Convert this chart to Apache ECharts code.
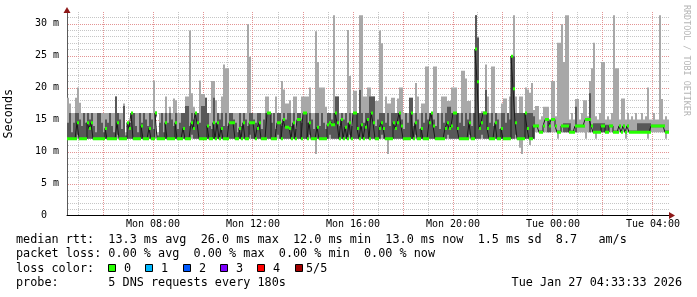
<!DOCTYPE html>
<html><head><meta charset="utf-8">
<script src="https://cdn.jsdelivr.net/npm/echarts@6/dist/echarts.min.js"></script>
<style>html,body{margin:0;padding:0;background:#fff}#c{width:697px;height:297px}</style>
</head><body><div id="c"></div>
<script>
// time axis in hours since Mon 00:00; one column = 4.8 minutes
const startHour = 4.56;
const stepHours = 0.08;

// per-column ping distribution (ms): min, 2nd, median, 4th, max
const lo = [
 12,12,12,12,12,12,12,12,12,12,
 12,12,12,12,12,12,12,12,12,12,
 12,12,12,12,12,12,12,12,12,12,
 12,12,12,12,12,12,12,12,12,12,
 12,12,12,12,15.3,12,12,12,12,12,
 12,12,12,12,12,12,12,12,12,12,
 12,12,12,12,12,12,12,12,12,12,
 12,12,12,12,12,12,12,12,12,12,
 12,12,12,12,12,12,12,12,12,12,
 12,12,12,12,12,12,12,12,12,12,
 12,12,12,12,12,12,12,12,12,12,
 12,12,12,12,12,12,12,12,12,12,
 12,12,12,12,9.6,12,12,12,12,12,
 12,12,12,12,12,12,12,12,12,12,
 12,12,12,12,12,12,12,12,12,12,
 12,12,12,12,12,12,12,12,12,12,
 9.6,12,12,12,12,12,12,12,12,12,
 12,12,12,12,12,12,12,12,12,12,
 12,12,12,12,12,12,12,12,12,12,
 12,12,12,12,12,12,12,12,12,12,
 12,12,12,12,12,12,12,12,12,12,
 12,12,12,12,12,12,12,12,12,12,
 12,12,12,12,12,12,10.6,9.6,12,12,
 12,11,12,12,13,13,13,13,13,13,
 13,13,13,13,13,12,13,13,13,13,
 13,13,13,13,13,13,13,13,13,12,
 13,13,13,13,12,13,13,13,13,13,
 13,13,13,13,13,13,13,13,13,12,
 13,13,13,13,13,13,13,13,13,13,
 12,13,13,13,13,13,13,13,13,12,
 13
];
const q2 = [
 12,12,12,12,12,12.6,12,12,12,12,
 12,12,12,12,12,12,12,12,12,12,
 12,12,12,12,12,12.6,12,12,12,12,
 12,12,12,12,12,12,12,12,12,12,
 12,12,12,12,15.5,12,12,12,12,12,
 12,12,12,12,12,12,12,12,12,12,
 12,12,12.6,12,12,12,12,12,12,12,
 12,12,12,12,12,12,12,12,12,12,
 12,12,12,12,12,12,12,12,12,12,
 12,12.6,12,12,12,12,12,12,12,12,
 12,12,12,12,12,12.6,12,12,12,12,
 12,12,12,12,12,12,12,12,12,12,
 12,12.6,12,12,12,12,12,12,12,12,
 12,12.6,12,12,12,12,12,12,12,12,
 12,12.6,12,12,12,12,12,12,12,12,
 12,12,12,12,12,12,12,12.6,12,12,
 12,12,12,12,12,12,12,12,12,12,
 12,12,12,12,12.6,12,12,12,12,12,
 12,12,12,12,12,12,12,12,12,12,
 12.6,12,12,12,12,12,12,12,12,12,
 12,12.6,12,12,12,12,12,12.6,12,12,
 12,12,12,12,12,12,12,12,12,12,
 12,12,12,12,12.6,12,12,12,12,12,
 12,12,12,12,13.8,13.8,13,13,13.8,14.8,
 13,13,14.8,14.8,13.8,13,13,13.8,13,13,
 13,13,13,13,13,13.8,13.8,13.8,13.8,14.8,
 14.8,13,13.8,13,13,13,13,13,13,13,
 13,13.8,13.8,13,13,13,13.8,13,13.8,13,
 13.8,13,13,13,13,13,13,13,13,13,
 13,13,13.8,13.8,13.8,13.8,13.8,13.8,13.8,13,
 13
];
const med = [
 12,12,12,12,12,14.5,12,12,12,12,
 14.5,13.6,14.5,12,12,12,12,12,12,13.6,
 12,12,12,12,12,14.5,12,12,12,12,
 14.5,13.6,16,12,12,12,12,14,12,12,
 12,13.6,12,12,16,12,12,12,12,14.5,
 12,12,12,12,14.5,12,12,12,13.6,12,
 12,12,14.5,13.6,16,14.5,12,12,12,12,
 14,12,12,14.5,12,14.5,12,13.6,12,12,
 12,14.5,14.5,14.5,12,12,13.6,12,14.5,12,
 12,14.5,14.5,14.5,12,13.6,14.5,12,12,12,
 16,16,12,12,12,14.5,14.5,12,15,13.8,
 13.8,13.6,12,14.5,12,15,15,12,16,16,
 12,14.5,12,12,12,13.8,12,12,12,12,
 14.2,14.5,14.2,14.2,16,14.5,12,15,12,13.8,
 12,14.5,12,16,16,13.6,12,14.2,12,13.8,
 15,12,16,14.5,12,12,13.6,14.5,13.6,12,
 12,12,12,14.5,13.6,14.5,16,14,12,12,
 12,12,16,12,14.5,12,12,13.6,12,12,
 12,14.5,16,14,12,12,12,12,12,13.6,
 14.5,13.6,14,16,16,13.6,12,12,12,12,
 12,14.5,12,12,26.0,20.9,13.6,14.5,16,16,
 13.6,12,12,12,14.5,12,12,13.6,12,12,
 12,12,24.9,19.8,14.5,12,12,12,12,16,
 13.6,12,12,14,14,14,13,13,14,15,
 15,14,15,15,14,13,13,14,14,14,
 14,13,13,13,14,14,14,14,14,15,
 15,15,14,13,13,13,13,14,14,13,
 13,14,14,13,13,13,14,13,14,13,
 14,13,13,13,13,13,13,13,13,13,
 13,13,14,14,14,14,14,14,14,13,
 13
];
const q4 = [
 14.5,16,13,14.5,16,16,15,14,16,14.5,
 16,15,16,14,13,16,16,14.5,13,15,
 14.5,16,14,13,18.6,16,15,13.5,17.1,12.5,
 14.5,14.5,16,16,14,13,16,14.5,16,15,
 14,16,15,13.5,16,12.5,14.5,16,13,16,
 14.5,16,15,14,16,13.5,14.5,16,16,17.1,
 17.1,14,16,15,16,16,14.5,17.1,17.1,18.4,
 16,14,13.5,18.4,14.5,16,15,16,14,16,
 14,16,16,15,14.5,13,16,14,16,15,
 14,16,16,15,14.5,16,16,13.5,15,16,
 16,16,14.5,16,13.5,16,16,14,16,15,
 16,16,14,16,13.5,16,16,14.5,16,16,
 14.5,16,15,13.5,16,16,14,16,14.5,13.5,
 16,16,15,16,18.6,18.6,14,16,15,16,
 14.5,16,14,16,16,16,19.6,16,14.5,16,
 16,18.6,18.6,18.6,14,15,16,16,16,14.5,
 16,14,16,16,16,16,16,15,13.5,16,
 14.5,18.4,18.4,14,16,15,13.5,16,14.5,16,
 15,16,16,15,14,16,13.5,16,14.5,16,
 17.0,17.0,16,16,16,16,14.5,16,14,16,
 15,16,14,16,31.3,27.8,16,16,16,19.6,
 16,14.5,16,14,16,15,13.5,16,16,14.5,
 16,15,24.9,24.9,16,16,16,16,16,16,
 16,16,16,15.5,14.2,14.2,13.3,13.3,14.2,15.2,
 15,14.4,15.2,15.2,14.2,13.3,13.3,14.2,14.4,14.4,
 14.4,14.4,13.3,13.3,17.0,14.2,14.2,14.2,14.2,15.2,
 15.2,19.1,14.2,14.4,14.4,14.4,14.4,14.4,14.4,14.2,
 14.2,14.2,14.2,13.3,13.3,13.3,14.2,13.3,14.2,13.3,
 14.2,13.3,13.3,13.3,13.3,14.4,14.4,14.4,14.4,14.4,
 14.4,14.4,14.2,14.2,14.2,14.2,14.2,14.2,14.2,13.3,
 13.3
];
const hi = [
 18.4,17.5,16,16,18.4,20.0,17.6,16,16,16,
 16,16,16,16,16,16,16,16,16,16,
 16,16,16,16,18.6,16,16,16,17.5,13,
 14.5,14.5,16,16,16,16,16,16,16,16,
 16,16,16,21.1,16.3,13,16,16,16,18.6,
 16,17.0,16,18.3,18.0,16,16,16,16,18.6,
 18.6,28.9,19.1,17.0,16,16,21.1,19.0,19.0,18.4,
 16,16,21.0,21.0,18.0,16,16,18.6,23.6,23.0,
 23.0,16,16,16,16,16,16,16,16,16,
 29.9,24.8,16,16,16,16,16,16,16,18.6,
 18.6,16,16,16,18.6,16,16,21.0,19.7,17.5,
 17.5,18.0,16,18.6,18.6,16,16,18.6,18.6,18.6,
 18.6,20.0,16,16,28.8,24.0,20.0,20.0,20.0,17.0,
 16,16,16,31.3,18.6,18.6,16,16,16,16,
 29.0,21.8,16,19.5,19.5,16,31.3,31.3,18.6,18.6,
 20.0,20.0,18.6,18.6,17.9,17.9,28.9,26.9,16,18.6,
 17.5,17.5,18.4,18.4,16,18.3,20.0,20.0,16,16,
 16,18.4,18.4,16,20.7,18.6,16,17.5,17.5,23.3,
 23.3,16,16,23.3,23.3,16,16,18.6,18.6,18.6,
 17.9,17.9,20.0,20.0,20.0,16,16,22.6,22.6,21.4,
 17.9,17.9,16,16,31.3,27.8,16,16.3,16.3,23.6,
 18.6,16,23.3,23.3,16,16,16,17.5,18.3,18.3,
 16,18.6,24.9,31.3,18.6,16,18.6,18.6,16,20.0,
 19.7,19.2,20.7,16.5,17.1,17.1,15,15.5,17.0,17.0,
 17.0,15,21.0,21.0,15.5,27.0,27.0,29.9,24.0,31.3,
 31.3,15,16,15,18.2,18.2,15,16,18.0,18.0,
 15.5,21.0,23.0,27.0,15.5,15,16,24.0,24.0,15,
 15.5,15,16,31.3,23.0,23.0,15,18.3,18.3,15,
 16,15,15.5,15,16,15,15,16,15,15.5,
 20.0,15,15,16,15,15,31.3,18.2,15,15.5,
 15
];

const xTickValues = [8, 12, 16, 20, 24, 28];
const xTickLabels = ['Mon 08:00', 'Mon 12:00', 'Mon 16:00', 'Mon 20:00', 'Tue 00:00', 'Tue 04:00'];
const yTickValues = [0, 5, 10, 15, 20, 25, 30];
const yTickLabels = ['0  ', '5 m', '10 m', '15 m', '20 m', '25 m', '30 m'];
const lossColors = ['#26ff00', '#00b8ff', '#0059ff', '#7e00ff', '#ff0000', '#a10000'];
const lossLabels = ['0', '1', '2', '3', '4', '5/5'];
const statLines = [
  'median rtt:  13.3 ms avg  26.0 ms max  12.0 ms min  13.0 ms now  1.5 ms sd  8.7   am/s',
  'packet loss: 0.00 % avg  0.00 % max  0.00 % min  0.00 % now',
  'loss color:',
  'probe:       5 DNS requests every 180s'
];
const stampText = 'Tue Jan 27 04:33:33 2026';
const watermark = 'RRDTOOL / TOBI OETIKER';

const MONO = '"DejaVu Sans Mono", monospace';
const n = lo.length;
const endHour = startHour + n * stepHours;
const smokeData = lo.map((v, i) => [startHour + i * stepHours, lo[i], q2[i], med[i], q4[i], hi[i]]);
const medLine = smokeData.map(d => [d[0], d[3]]).concat([[endHour, med[n - 1]]]);

// grid rules: minor every 1 ms / 1 h, major every 5 ms / 2 h
const GRAY = '#c6c6c6', PINK = '#e39494';
const hMinor = [], hMajor = [], vMinor = [], vMajor = [];
for (let v = 1; v <= 31; v++) (v % 5 === 0 ? hMajor : hMinor).push([startHour, v]);
for (let h = 5; h <= 28; h++) (h % 2 === 0 ? vMajor : vMinor).push([h, 0]);

function hRule(color) {
  return (params, api) => {
    const y = Math.round(api.coord([startHour, api.value(1)])[1]) + 0.5;
    const cs = params.coordSys;
    return {type: 'line', shape: {x1: cs.x + 1, y1: y, x2: cs.x + cs.width, y2: y},
      style: {stroke: color, lineWidth: 1, lineDash: [1, 1]}};
  };
}
function vRule(color) {
  return (params, api) => {
    const x = Math.floor(api.coord([api.value(0), 0])[0]) + 0.5;
    const cs = params.coordSys;
    return {type: 'line', shape: {x1: x, y1: cs.y, x2: x, y2: cs.y + cs.height},
      style: {stroke: color, lineWidth: 1, lineDash: [1, 1]}};
  };
}

const chart = echarts.init(document.getElementById('c'), null, {renderer: 'canvas', width: 697, height: 297});

const graphics = [];
graphics.push({type: 'polygon', z: 100, shape: {points: [[67, 7], [63.5, 13], [70.5, 13]]}, style: {fill: '#8e1818'}});
graphics.push({type: 'polygon', z: 100, shape: {points: [[675, 215.5], [669, 212], [669, 219]]}, style: {fill: '#8e1818'}});
graphics.push({type: 'text', x: 686, y: 5, rotation: -Math.PI / 2, style: {text: watermark, font: '8.4px ' + MONO, fill: '#b5b5b5', align: 'left', verticalAlign: 'middle'}});
const lineY = [240, 254.3, 268.6, 282.9];
statLines.forEach((t, i) => graphics.push({type: 'text', x: 16, y: lineY[i], style: {text: t, font: '11.8px ' + MONO, fill: '#000', align: 'left', verticalAlign: 'middle'}}));
graphics.push({type: 'text', x: 682, y: lineY[3], style: {text: stampText, font: '11.8px ' + MONO, fill: '#000', align: 'right', verticalAlign: 'middle'}});
lossColors.forEach((c, k) => {
  const sx = Math.round(108 + k * 37.3);
  graphics.push({type: 'rect', shape: {x: sx + 0.5, y: 264.5, width: 7, height: 7}, style: {fill: c, stroke: '#000', lineWidth: 1}});
  graphics.push({type: 'text', x: k < 5 ? sx + 16 : sx + 11, y: lineY[2], style: {text: lossLabels[k], font: '11.8px ' + MONO, fill: '#000', align: 'left', verticalAlign: 'middle'}});
});

chart.setOption({
  animation: false,
  backgroundColor: '#ffffff',
  grid: {left: 67, top: 12, width: 602, height: 203.5, containLabel: false, outerBoundsMode: 'none'},
  xAxis: {
    type: 'value', min: startHour, max: endHour,
    axisLine: {show: true, onZero: false, lineStyle: {color: '#000', width: 1}},
    axisTick: {show: false}, splitLine: {show: false},
    axisLabel: {customValues: xTickValues, formatter: v => xTickLabels[xTickValues.indexOf(v)] || '',
      fontFamily: MONO, fontSize: 10, color: '#000', margin: 4}
  },
  yAxis: {
    type: 'value', min: 0, max: 31.8,
    axisLine: {show: true, onZero: false, lineStyle: {color: '#5a5a5a', width: 1}},
    axisTick: {show: false}, splitLine: {show: false},
    axisLabel: {customValues: yTickValues, formatter: v => { const k = yTickValues.indexOf(v); return k >= 0 ? yTickLabels[k] : ''; },
      fontFamily: MONO, fontSize: 10, color: '#000', margin: 8},
    name: 'Seconds', nameLocation: 'middle', nameRotate: 90, nameGap: 52,
    nameTextStyle: {fontFamily: MONO, fontSize: 11.8, color: '#000'}
  },
  graphic: graphics,
  series: [
    {type: 'custom', name: 'hMinor', z: 1, silent: true, data: hMinor, encode: {x: 0, y: 1}, renderItem: hRule(GRAY)},
    {type: 'custom', name: 'vMinor', z: 1, silent: true, data: vMinor, encode: {x: 0, y: 1}, renderItem: vRule(GRAY)},
    {type: 'custom', name: 'hMajor', z: 1, silent: true, data: hMajor, encode: {x: 0, y: 1}, renderItem: hRule(PINK)},
    {type: 'custom', name: 'vMajor', z: 1, silent: true, data: vMajor, encode: {x: 0, y: 1}, renderItem: vRule(PINK)},
    {
      type: 'custom', name: 'smoke', z: 2, data: smokeData, encode: {x: 0, y: [1, 5]},
      renderItem: (params, api) => {
        const t = api.value(0);
        const pLo = api.coord([t, api.value(1)]);
        const pHi = api.coord([t + stepHours, api.value(5)]);
        const pQ2 = api.coord([t, api.value(2)]);
        const pQ4 = api.coord([t, api.value(4)]);
        const w = pHi[0] - pLo[0];
        return {type: 'group', children: [
          {type: 'rect', shape: {x: pLo[0], y: pHi[1], width: w, height: pLo[1] - pHi[1]}, style: {fill: '#a8a8a8'}},
          {type: 'rect', shape: {x: pLo[0], y: pQ4[1], width: w, height: pQ2[1] - pQ4[1]}, style: {fill: '#585858'}}
        ]};
      }
    },
    {
      type: 'line', name: 'median', z: 3, data: medLine, step: 'end', symbol: 'none',
      lineStyle: {color: '#1a1a1a', width: 1}
    },
    {
      type: 'custom', name: 'loss', z: 4, data: smokeData, encode: {x: 0, y: 3},
      renderItem: (params, api) => {
        const t = api.value(0), m = api.value(3);
        const a = api.coord([t, m]), b = api.coord([t + stepHours, m]);
        return {type: 'rect', shape: {x: a[0], y: a[1] - 1.5, width: b[0] - a[0], height: 3}, style: {fill: lossColors[0]}};
      }
    }
  ]
});
</script>
</body></html>
